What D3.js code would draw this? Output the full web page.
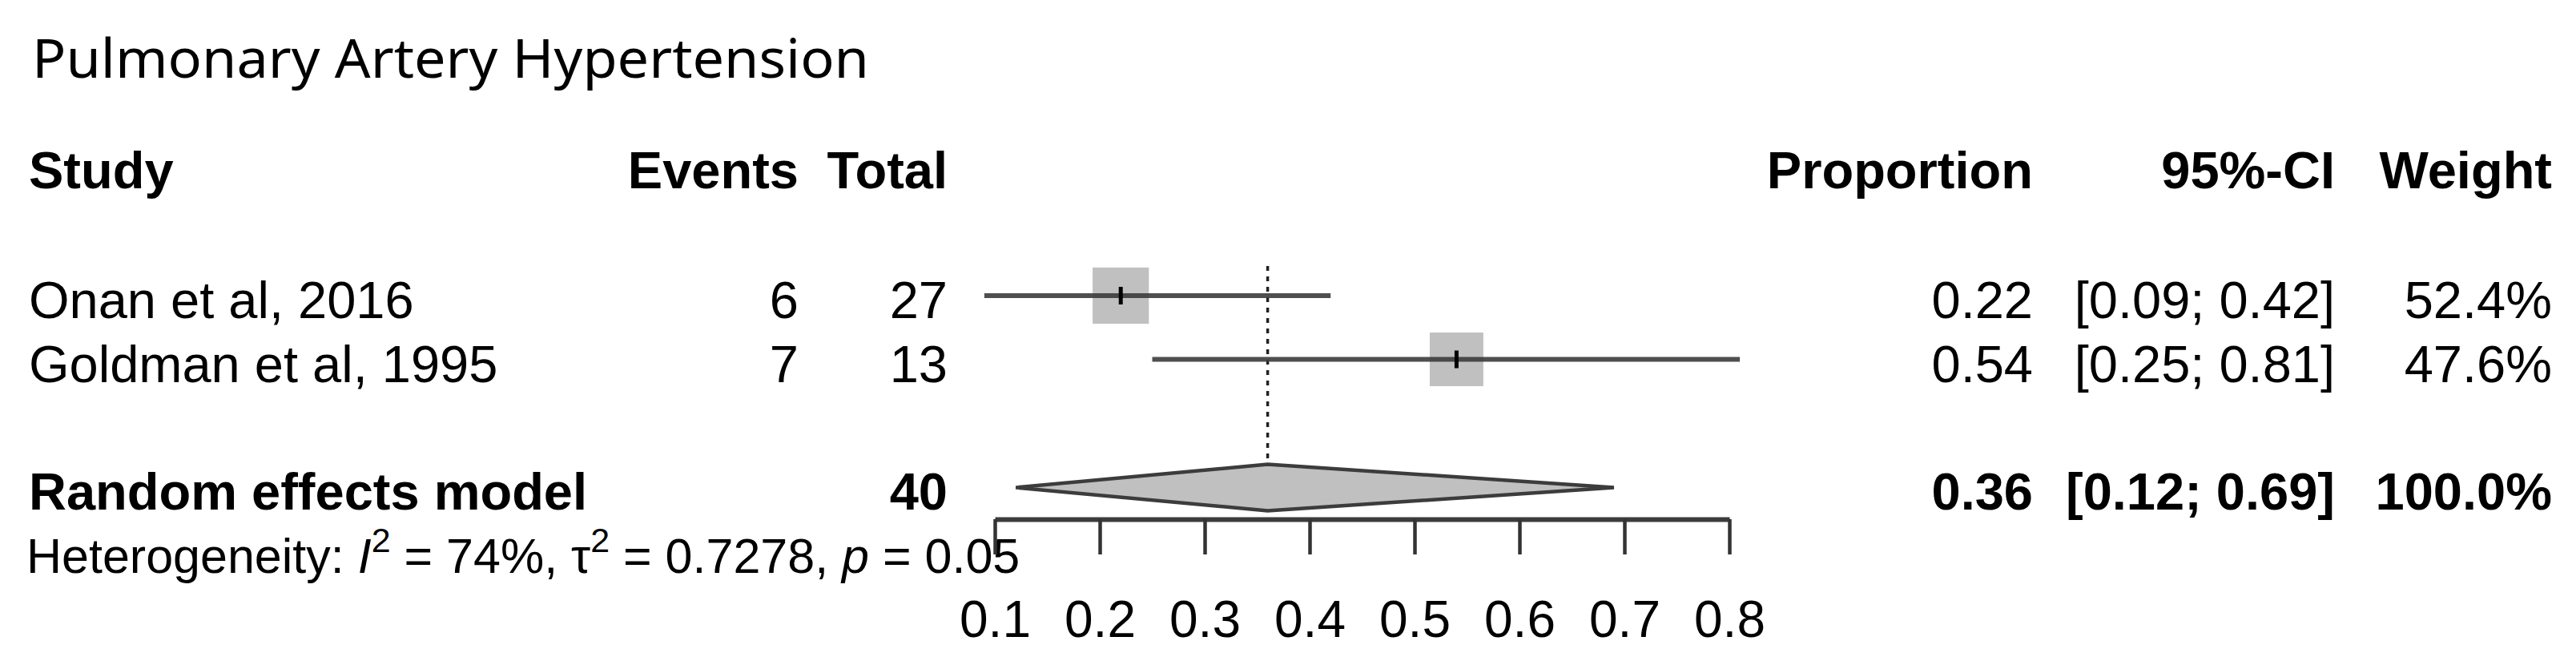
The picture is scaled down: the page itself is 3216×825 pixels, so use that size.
<!DOCTYPE html>
<html><head><meta charset="utf-8">
<script src="https://cdn.jsdelivr.net/npm/d3@7"></script>
<style>body{margin:0;background:#fff;} svg{display:block;}</style>
</head><body><svg id="chart" width="3216" height="825"></svg>
<script>
// ---- data ----
const chartTitle = "Pulmonary Artery Hypertension";
const headers = ["Study", "Events", "Total", "Proportion", "95%-CI", "Weight"];
const studies = ["Onan et al, 2016", "Goldman et al, 1995"];
const events = [6, 7];
const totals = [27, 13];
const proportions = [0.22, 0.54];
const ciLower = [0.09, 0.25];
const ciUpper = [0.42, 0.81];
const weights = [52.4, 47.6];
const pooledLabel = "Random effects model";
const pooledTotal = 40;
const pooledEst = 0.36;
const pooledCI = [0.12, 0.69];
const pooledWeight = 100.0;
const hetI2 = 74;
const hetTau2 = 0.7278;
const hetP = 0.05;
const axisTicks = [0.1, 0.2, 0.3, 0.4, 0.5, 0.6, 0.7, 0.8];

// ---- layout ----
const svg = d3.select("#chart");
const FONT = "'Liberation Sans', Arial, Helvetica, sans-serif";
const FS = 65;
const x = d3.scaleLinear().domain([0.1, 0.8]).range([1242, 2159]);
const y = d3.scaleLinear().domain([0, 1]).range([369, 448.5]); // row index -> y
const base = 28; // text baseline offset from row centre

const colX = {study: 36, events: 997, total: 1183, prop: 2538, ci: 2915, weight: 3186};

// title
svg.append("text").attr("x", 40).attr("y", 97)
  .attr("font-family", "'Noto Sans', 'Open Sans', sans-serif").attr("font-size", 68)
  .attr("textLength", 1045).attr("lengthAdjust", "spacingAndGlyphs")
  .text(chartTitle);

// header row
const hy = y(-2) + 25;
const hdr = svg.append("g").attr("font-family", FONT).attr("font-size", FS).attr("font-weight", "bold");
const hdrPos = [[colX.study, "start"], [colX.events, "end"], [colX.total, "end"], [colX.prop, "end"], [colX.ci, "end"], [colX.weight, "end"]];
headers.forEach((h, i) => {
  hdr.append("text").attr("x", hdrPos[i][0]).attr("y", hy).attr("text-anchor", hdrPos[i][1]).text(h);
});

// study rows text
const f2 = d3.format(".2f");
const rows = svg.append("g").attr("font-family", FONT).attr("font-size", FS);
studies.forEach((s, i) => {
  const by = y(i) + base;
  rows.append("text").attr("x", colX.study).attr("y", by).text(s);
  rows.append("text").attr("x", colX.events).attr("y", by).attr("text-anchor", "end").text(events[i]);
  rows.append("text").attr("x", colX.total).attr("y", by).attr("text-anchor", "end").text(totals[i]);
  rows.append("text").attr("x", colX.prop).attr("y", by).attr("text-anchor", "end").text(f2(proportions[i]));
  rows.append("text").attr("x", colX.ci).attr("y", by).attr("text-anchor", "end")
    .text("[" + f2(ciLower[i]) + "; " + f2(ciUpper[i]) + "]");
  rows.append("text").attr("x", colX.weight).attr("y", by).attr("text-anchor", "end").text(weights[i].toFixed(1) + "%");
});

// pooled row text
const py = y(3) + base;
const pr = svg.append("g").attr("font-family", FONT).attr("font-size", FS).attr("font-weight", "bold");
pr.append("text").attr("x", colX.study).attr("y", py).text(pooledLabel);
pr.append("text").attr("x", colX.total).attr("y", py).attr("text-anchor", "end").text(pooledTotal);
pr.append("text").attr("x", colX.prop).attr("y", py).attr("text-anchor", "end").text(f2(pooledEst));
pr.append("text").attr("x", colX.ci).attr("y", py).attr("text-anchor", "end")
  .text("[" + f2(pooledCI[0]) + "; " + f2(pooledCI[1]) + "]");
pr.append("text").attr("x", colX.weight).attr("y", py).attr("text-anchor", "end").text(pooledWeight.toFixed(1) + "%");

// heterogeneity
const het = svg.append("text").attr("x", 33).attr("y", 715).attr("font-family", FONT).attr("font-size", 61);
het.append("tspan").text("Heterogeneity: ");
het.append("tspan").attr("font-style", "italic").text("I");
het.append("tspan").attr("font-size", 43).attr("dy", -26).text("2");
het.append("tspan").attr("dy", 26).text(" = " + hetI2 + "%, τ");
het.append("tspan").attr("font-size", 43).attr("dy", -26).text("2");
het.append("tspan").attr("dy", 26).text(" = " + hetTau2 + ", ");
het.append("tspan").attr("font-style", "italic").text("p");
het.append("tspan").text(" = " + hetP.toFixed(2));

// dashed reference line at pooled estimate
const diamondH = 29;
svg.append("line")
  .attr("x1", x(pooledEst)).attr("x2", x(pooledEst))
  .attr("y1", y(0) - 37).attr("y2", y(3) - diamondH)
  .attr("stroke", "#222").attr("stroke-width", 3.5).attr("stroke-dasharray", "6,7");

// CI lines, squares (area proportional to weight), point ticks
const marks = svg.append("g");
const side = w => 9.7 * Math.sqrt(w);
studies.forEach((s, i) => {
  const sz = side(weights[i]);
  marks.append("rect").attr("x", x(proportions[i]) - sz / 2).attr("y", y(i) - sz / 2)
    .attr("width", sz).attr("height", sz).attr("fill", "#c0c0c0");
  marks.append("line").attr("x1", x(ciLower[i])).attr("x2", x(ciUpper[i]))
    .attr("y1", y(i)).attr("y2", y(i)).attr("stroke", "#3c3c3c").attr("stroke-width", 6).attr("opacity", 0.9);
  marks.append("line").attr("x1", x(proportions[i])).attr("x2", x(proportions[i]))
    .attr("y1", y(i) - 11).attr("y2", y(i) + 11).attr("stroke", "#000").attr("stroke-width", 5);
});

// diamond
const dy0 = y(3) + 1;
const dpts = [[x(pooledCI[0]), dy0], [x(pooledEst), dy0 - diamondH], [x(pooledCI[1]), dy0], [x(pooledEst), dy0 + diamondH]];
svg.append("path").attr("d", d3.line()(dpts) + "Z")
  .attr("fill", "#c0c0c0").attr("stroke", "#3c3c3c").attr("stroke-width", 4.5);

// axis
const axis = d3.axisBottom(x).tickValues(axisTicks).tickSize(44).tickSizeOuter(0).tickPadding(58)
  .tickFormat(d3.format(".1f"));
const ag = svg.append("g").attr("transform", "translate(0,648)").call(axis);
ag.select(".domain").attr("stroke", "#3c3c3c").attr("stroke-width", 6);
ag.selectAll(".tick line").attr("stroke", "#333").attr("stroke-width", 4.5);
ag.selectAll(".tick text").attr("font-family", FONT).attr("font-size", 64).attr("fill", "#000");
</script></body></html>
